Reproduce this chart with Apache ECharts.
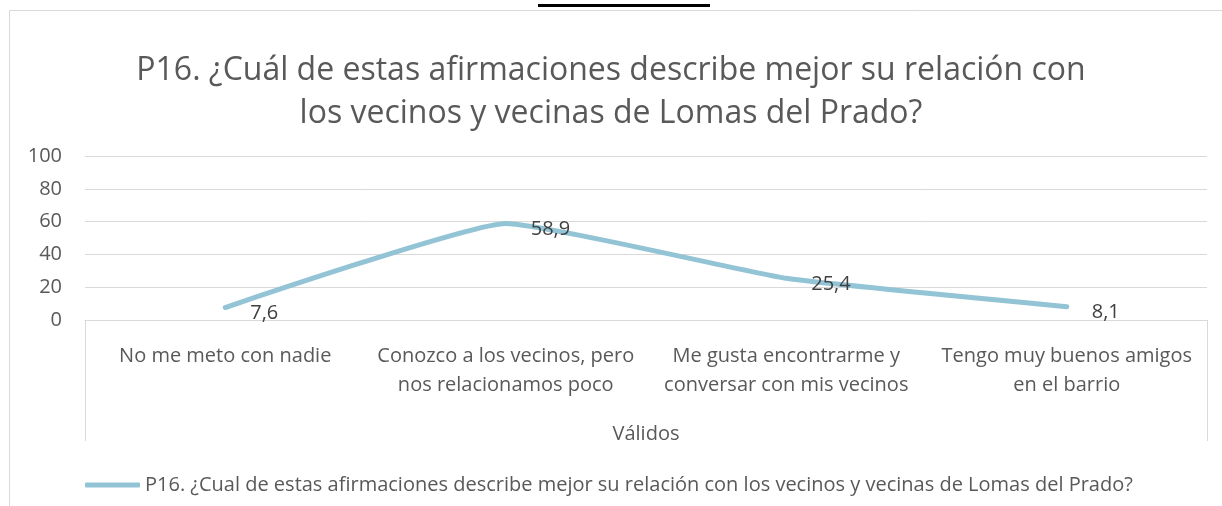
<!DOCTYPE html>
<html><head><meta charset="utf-8">
<script src="https://cdn.jsdelivr.net/npm/echarts@6/dist/echarts.min.js"></script>
<style>html,body{margin:0;padding:0;background:#fff}#c{width:1222px;height:506px}</style>
</head><body><div id="c"></div>
<script>
const categories = ["No me meto con nadie", "Conozco a los vecinos, pero\nnos relacionamos poco", "Me gusta encontrarme y\nconversar con mis vecinos", "Tengo muy buenos amigos\nen el barrio"];
const values = [7.6, 58.9, 25.4, 8.1];
const yTicks = [0, 20, 40, 60, 80, 100];
const seriesName = "P16. ¿Cual de estas afirmaciones describe mejor su relación con los vecinos y vecinas de Lomas del Prado?";
const titleText = "P16. ¿Cuál de estas afirmaciones describe mejor su relación con\nlos vecinos y vecinas de Lomas del Prado?";
const axisName = "Válidos";
const headerText = "Cuadro N°4";

const FONT = "Open Sans";
const FS = 20;
const LINE = '#93C4D6';
const chart = echarts.init(document.getElementById('c'), null, {renderer: 'canvas'});
const G = {left: 85, right: 15, top: 156, bottom: 186};
chart.setOption({
  animation: false,
  textStyle: {fontFamily: FONT},
  title: {
    text: titleText, left: 'center', top: 44,
    textStyle: {fontFamily: FONT, fontSize: 32, fontWeight: 'normal', color: '#595959', lineHeight: 43}
  },
  grid: G,
  xAxis: {
    type: 'category', data: categories, boundaryGap: true,
    name: axisName, nameLocation: 'middle', nameGap: 104,
    nameTextStyle: {fontFamily: FONT, fontSize: FS, color: '#595959'},
    axisLine: {show: true, lineStyle: {color: '#D9D9D9', width: 1}},
    axisTick: {show: false},
    axisLabel: {fontFamily: FONT, fontSize: FS, color: '#595959', margin: 22, lineHeight: 29, interval: 0}
  },
  yAxis: {
    type: 'value', min: 0, max: 100, interval: 20,
    axisLine: {show: false}, axisTick: {show: false},
    axisLabel: {fontFamily: FONT, fontSize: FS, color: '#595959', margin: 23,
      formatter: v => yTicks.includes(v) ? String(v) : ''},
    splitLine: {lineStyle: {color: '#D9D9D9', width: 1}}
  },
  legend: {
    left: 80, top: 470, itemWidth: 55, itemHeight: 5, itemGap: 6,
    icon: 'roundRect',
    itemStyle: {color: LINE},
    textStyle: {fontFamily: FONT, fontSize: FS, color: '#595959'}
  },
  series: [{
    name: seriesName, type: 'line', data: values,
    smooth: 0.12, showSymbol: true, symbol: 'circle', symbolSize: 4,
    lineStyle: {color: LINE, width: 5, cap: 'round', join: 'round'},
    itemStyle: {color: LINE, borderWidth: 0},
    label: {show: true, position: 'right', distance: 5, offset: [18, 6], fontFamily: FONT, fontSize: FS, color: '#404040',
      formatter: p => String(p.value).replace('.', ',')}
  }],
  graphic: [
    {type: 'rect', shape: {x: 9.5, y: 10.5, width: 1240, height: 520}, style: {fill: 'none', stroke: '#D9D9D9', lineWidth: 1}, z: -1},
    {type: 'line', shape: {x1: 85.5, y1: 320, x2: 85.5, y2: 441}, style: {stroke: '#D9D9D9', lineWidth: 1}},
    {type: 'line', shape: {x1: 1207.5, y1: 320, x2: 1207.5, y2: 441}, style: {stroke: '#D9D9D9', lineWidth: 1}},
    {type: 'text', x: 624, y: 5, style: {text: headerText, font: 'bold 26px Arial', fill: '#000', textAlign: 'center', textVerticalAlign: 'bottom'}},
    {type: 'rect', shape: {x: 538, y: 4, width: 172, height: 3}, style: {fill: '#000'}}
  ]
});
</script></body></html>
